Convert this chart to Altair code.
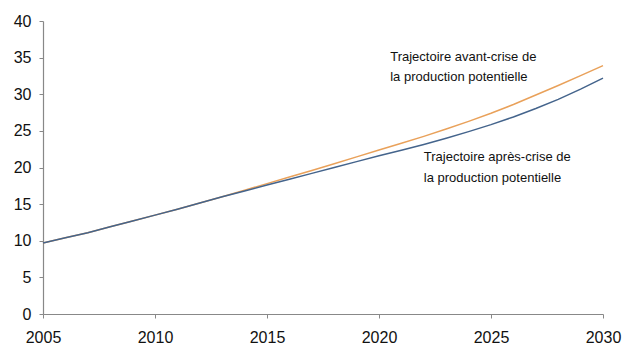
import altair as alt
import pandas as pd

years = list(range(2005, 2031))
avant = [9.7, 10.4, 11.1, 11.9, 12.7, 13.5, 14.3, 15.15, 16.0, 16.9, 17.8, 18.7, 19.6, 20.5, 21.45,
         22.4, 23.3, 24.25, 25.25, 26.3, 27.4, 28.6, 29.9, 31.2, 32.55, 33.9]
apres = [9.7, 10.4, 11.1, 11.9, 12.7, 13.5, 14.3, 15.15, 16.0, 16.8, 17.6, 18.4, 19.2, 20.0, 20.8,
         21.6, 22.35, 23.15, 24.0, 24.9, 25.85, 26.9, 28.05, 29.3, 30.7, 32.2]
series_names = ["Trajectoire avant-crise", "Trajectoire après-crise"]
series_colors = ["#E9A15A", "#44648C"]

label_text = ["Trajectoire avant-crise de", "la production potentielle",
              "Trajectoire après-crise de", "la production potentielle"]
label_x = [2020.5, 2020.5, 2022.0, 2022.0]
label_y = [35.1, 32.3, 21.5, 18.6]

x_ticks = [2005, 2010, 2015, 2020, 2025, 2030]
y_ticks = [0, 5, 10, 15, 20, 25, 30, 35, 40]

rows = []
for name, vals in zip(series_names, [avant, apres]):
    for yr, v in zip(years, vals):
        rows.append({"annee": yr, "valeur": v, "serie": name})
df = pd.DataFrame(rows)
labels = pd.DataFrame({"t": label_text, "x": label_x, "y": label_y})

xs = alt.Scale(domain=[2005, 2030], nice=False)
ys = alt.Scale(domain=[0, 40], nice=False)
x_axis = alt.Axis(values=x_ticks, format="d", grid=False,
                  labelFlush=False, labelOverlap=False, labelPadding=11)
y_axis = alt.Axis(values=y_ticks, grid=False, labelOverlap=False, labelPadding=8)

lines = alt.Chart(df).mark_line(strokeWidth=1.5).encode(
    x=alt.X("annee:Q", scale=xs, title=None, axis=x_axis),
    y=alt.Y("valeur:Q", scale=ys, title=None, axis=y_axis),
    color=alt.Color("serie:N", scale=alt.Scale(domain=series_names, range=series_colors), legend=None),
)

text = alt.Chart(labels).mark_text(align="left", baseline="middle", fontSize=13,
                                   font="Liberation Sans", color="#111111").encode(
    x=alt.X("x:Q", scale=xs, title=None, axis=x_axis),
    y=alt.Y("y:Q", scale=ys, title=None, axis=y_axis),
    text="t:N")

chart = (lines + text).properties(
    width=560, height=293,
    autosize=alt.AutoSizeParams(type="none"),
    padding={"left": 43, "top": 21, "right": 20, "bottom": 30},
).configure_view(stroke=None).configure_axis(
    domainColor="#888888", tickColor="#888888", tickSize=4, domainWidth=1.2,
    labelFont="Liberation Sans", labelFontSize=16, labelColor="#111111",
)

chart.save("out.html", embed_options={"renderer": "svg", "actions": False})
